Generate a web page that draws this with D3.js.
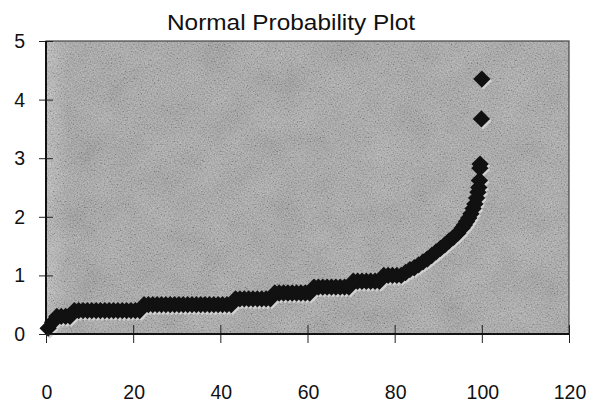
<!DOCTYPE html>
<html>
<head>
<meta charset="utf-8">
<script src="https://cdn.jsdelivr.net/npm/d3@7"></script>
<style>
  html, body { margin: 0; padding: 0; background: #fff; }
  svg { display: block; }
  text { font-family: "Liberation Sans", Arial, sans-serif; fill: #111; }
</style>
</head>
<body>
<div id="chart"></div>
<script>
const title = "Normal Probability Plot";

// sample percentile (x) and sorted value (y)
const percentile = [
  0.5, 1.5, 2.5, 3.5, 4.5, 5.5,
  6.5, 7.5, 8.5, 9.5, 10.5, 11.5, 12.5, 13.5, 14.5, 15.5, 16.5, 17.5, 18.5, 19.5, 20.5, 21.5,
  22.5, 23.5, 24.5, 25.5, 26.5, 27.5, 28.5, 29.5, 30.5, 31.5, 32.5, 33.5, 34.5, 35.5, 36.5, 37.5, 38.5, 39.5, 40.5, 41.5, 42.5,
  43.5, 44.5, 45.5, 46.5, 47.5, 48.5, 49.5, 50.5, 51.5,
  52.5, 53.5, 54.5, 55.5, 56.5, 57.5, 58.5, 59.5, 60.5,
  61.5, 62.5, 63.5, 64.5, 65.5, 66.5, 67.5, 68.5, 69.5,
  70.5, 71.5, 72.5, 73.5, 74.5, 75.5, 76.5,
  77.5, 78.5, 79.5, 80.5, 81.5,
  82.5, 83.5, 84.5, 85.5, 86.5, 87.5, 88.5, 89.5, 90.5, 91.5, 92.5, 93.5, 94.5, 95.5,
  96.0, 96.5, 97.0, 97.5, 98.0, 98.4, 98.8, 99.1, 99.3, 99.45, 99.55, 99.6, 99.9, 100.0
];
const value = [
  0.1, 0.2, 0.3, 0.3, 0.3, 0.3,
  0.4, 0.4, 0.4, 0.4, 0.4, 0.4, 0.4, 0.4, 0.4, 0.4, 0.4, 0.4, 0.4, 0.4, 0.4, 0.4,
  0.5, 0.5, 0.5, 0.5, 0.5, 0.5, 0.5, 0.5, 0.5, 0.5, 0.5, 0.5, 0.5, 0.5, 0.5, 0.5, 0.5, 0.5, 0.5, 0.5, 0.5,
  0.6, 0.6, 0.6, 0.6, 0.6, 0.6, 0.6, 0.6, 0.6,
  0.7, 0.7, 0.7, 0.7, 0.7, 0.7, 0.7, 0.7, 0.7,
  0.8, 0.8, 0.8, 0.8, 0.8, 0.8, 0.8, 0.8, 0.8,
  0.9, 0.9, 0.9, 0.9, 0.9, 0.9, 0.9,
  1.0, 1.0, 1.0, 1.0, 1.0,
  1.05, 1.1, 1.13, 1.18, 1.23, 1.28, 1.34, 1.4, 1.46, 1.52, 1.59, 1.65, 1.72, 1.81,
  1.86, 1.92, 1.98, 2.05, 2.14, 2.22, 2.32, 2.42, 2.5, 2.62, 2.83, 2.9, 3.67, 4.35
];
const xTicks = [0, 20, 40, 60, 80, 100, 120];
const yTicks = [0, 1, 2, 3, 4, 5];

const W = 602, H = 409;
const plot = {left: 46, right: 569, top: 41, bottom: 334};

const svg = d3.select("#chart").append("svg")
    .attr("width", W)
    .attr("height", H);

const defs = svg.append("defs");
const noise = defs.append("filter")
    .attr("id", "noise")
    .attr("x", 0).attr("y", 0).attr("width", "100%").attr("height", "100%");
noise.append("feTurbulence")
    .attr("type", "fractalNoise")
    .attr("baseFrequency", 0.7)
    .attr("numOctaves", 2)
    .attr("seed", 7);
noise.append("feColorMatrix")
    .attr("type", "matrix")
    .attr("values", "1 0 0 0 -0.2  1 0 0 0 -0.2  1 0 0 0 -0.2  0 0 0 0 0.3");

const blotch = defs.append("filter")
    .attr("id", "blotch")
    .attr("x", 0).attr("y", 0).attr("width", "100%").attr("height", "100%");
blotch.append("feTurbulence")
    .attr("type", "fractalNoise")
    .attr("baseFrequency", 0.03)
    .attr("numOctaves", 2)
    .attr("seed", 11);
blotch.append("feColorMatrix")
    .attr("type", "matrix")
    .attr("values", "1 0 0 0 0  1 0 0 0 0  1 0 0 0 0  0 0 0 0 0.15");

const grad = defs.append("linearGradient")
    .attr("id", "bg")
    .attr("x1", 0).attr("y1", 0).attr("x2", 1).attr("y2", 0);
grad.append("stop").attr("offset", "0%").attr("stop-color", "#cacaca");
grad.append("stop").attr("offset", "4%").attr("stop-color", "#b2b2b2");
grad.append("stop").attr("offset", "100%").attr("stop-color", "#b4b4b4");

const x = d3.scaleLinear().domain([0, 120]).range([plot.left, plot.right]);
const y = d3.scaleLinear().domain([0, 5]).range([plot.bottom, plot.top]);

// plot area
const pw = plot.right - plot.left, ph = plot.bottom - plot.top;
svg.append("rect")
    .attr("x", plot.left).attr("y", plot.top)
    .attr("width", pw).attr("height", ph)
    .attr("fill", "url(#bg)");
svg.append("rect")
    .attr("x", plot.left).attr("y", plot.top)
    .attr("width", pw).attr("height", ph)
    .attr("filter", "url(#blotch)");
svg.append("rect")
    .attr("x", plot.left).attr("y", plot.top)
    .attr("width", pw).attr("height", ph)
    .attr("filter", "url(#noise)");
svg.append("rect")
    .attr("x", plot.left).attr("y", plot.top)
    .attr("width", pw).attr("height", ph)
    .attr("fill", "none")
    .attr("stroke", "#444")
    .attr("stroke-width", 1.2);

// markers
const points = percentile.map((p, i) => ({p: p, v: value[i]}));
const diamond = d3.symbol().type(d3.symbolSquare).size(150);

svg.append("g")
    .selectAll("path")
    .data(points)
    .join("path")
    .attr("d", diamond)
    .attr("transform", d => `translate(${x(d.p) + 1.5},${y(d.v) + 1.8}) rotate(45)`)
    .attr("fill", "#d2d2d2");

svg.append("g")
    .selectAll("path")
    .data(points)
    .join("path")
    .attr("d", diamond)
    .attr("transform", d => `translate(${x(d.p)},${y(d.v)}) rotate(45)`)
    .attr("fill", "#111");

// axes
svg.append("g")
    .attr("transform", `translate(0,${plot.bottom})`)
    .call(d3.axisBottom(x).tickValues(xTicks).tickFormat(""))
    .call(g => g.select(".domain").remove())
    .call(g => g.selectAll(".tick line").attr("y1", -9).attr("y2", 9).attr("stroke", "#222"));

svg.append("line")
    .attr("x1", plot.left).attr("x2", plot.right)
    .attr("y1", plot.bottom).attr("y2", plot.bottom)
    .attr("stroke", "#111").attr("stroke-width", 1.8);

svg.append("g")
    .attr("transform", `translate(${plot.left},0)`)
    .call(d3.axisLeft(y).tickValues(yTicks).tickFormat(""))
    .call(g => g.select(".domain").remove())
    .call(g => g.selectAll(".tick line").attr("x1", -7).attr("x2", 7).attr("stroke", "#222"));

svg.append("line")
    .attr("x1", plot.left).attr("x2", plot.left)
    .attr("y1", plot.top).attr("y2", plot.bottom)
    .attr("stroke", "#111").attr("stroke-width", 2);

// tick labels
svg.append("g")
    .selectAll("text")
    .data(xTicks)
    .join("text")
    .attr("x", d => x(d) + 1)
    .attr("y", 399)
    .attr("text-anchor", "middle")
    .attr("font-size", 19.5)
    .text(d => d);

svg.append("g")
    .selectAll("text")
    .data(yTicks)
    .join("text")
    .attr("x", 25)
    .attr("y", d => y(d) + 7)
    .attr("text-anchor", "end")
    .attr("font-size", 19.5)
    .text(d => d);

svg.append("text")
    .attr("x", 291)
    .attr("y", 29.5)
    .attr("text-anchor", "middle")
    .attr("font-size", 22.5)
    .attr("textLength", 248)
    .attr("lengthAdjust", "spacingAndGlyphs")
    .text(title);
</script>
</body>
</html>
